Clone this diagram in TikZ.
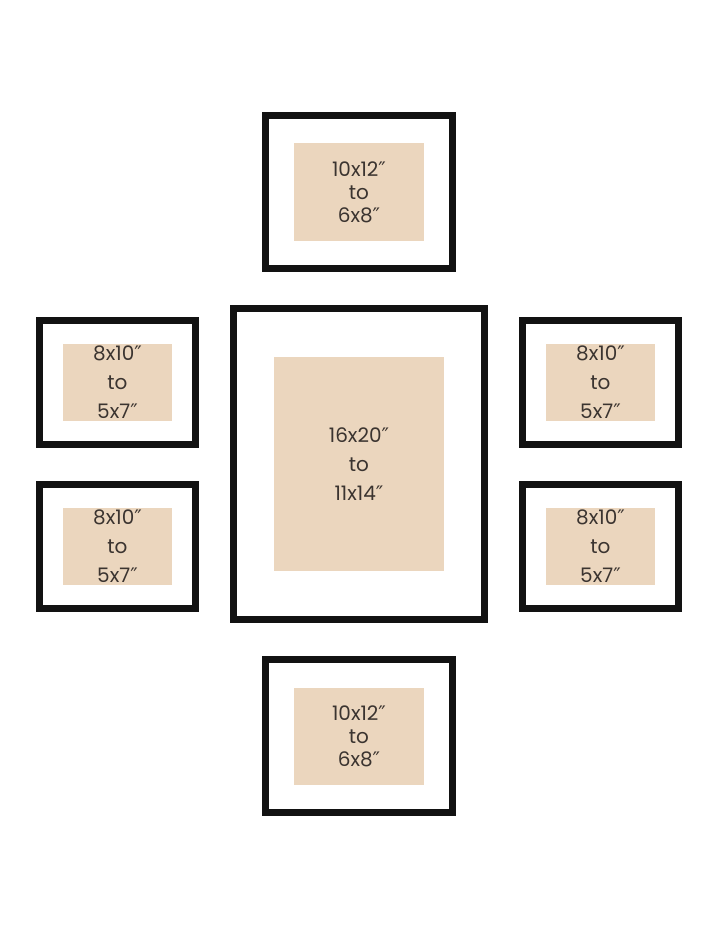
\documentclass[tikz,border=0pt]{standalone}
\usepackage{fontspec}
\setmainfont{Poppins}
\newfontfamily\primefont{DejaVu Sans}
\newcommand\inch{{\primefont\fontsize{20}{20}\selectfont ″}}
\usetikzlibrary{positioning}
\definecolor{matbeige}{HTML}{EBD6BE}
\definecolor{inkgray}{HTML}{3B3430}
\definecolor{framebk}{HTML}{121212}

\begin{document}
\begin{tikzpicture}[x=1pt,y=-1pt,on grid,
        frame/.style={draw=framebk,line width=7pt,inner sep=0pt},
        smallframe/.style={frame,minimum width=156pt,minimum height=124pt},
        wideframe/.style={frame,minimum width=187pt,minimum height=153pt},
        mat/.style={fill=matbeige,inner sep=0pt,text=inkgray,align=center,
            font=\fontsize{20}{29}\selectfont},
        smallmat/.style={mat,minimum width=109.5pt,minimum height=77pt},
        widemat/.style={mat,minimum width=129.5pt,minimum height=97pt,
            font=\fontsize{20}{23}\selectfont}]
        \useasboundingbox (0,0) rectangle (720,928);
        \node[frame,minimum width=251pt,minimum height=311.5pt] (big) at (359,464) {};
        \node[wideframe, above=272pt of big] (top) {};
        \node[wideframe, below=272pt of big] (bottom) {};
        \node[smallframe, above left=81.5pt and 241.5pt of big] (lu) {};
        \node[smallframe, below left=82pt and 241.5pt of big] (ll) {};
        \node[smallframe, above right=81.5pt and 241.5pt of big] (ru) {};
        \node[smallframe, below right=82pt and 241.5pt of big] (rl) {};
        \node[mat,minimum width=169.5pt,minimum height=213.5pt] (big mat) at (big) {16x20\inch\\to\\11x14\inch};
        \node[widemat] (top mat) at (top) {10x12\inch\\to\\6x8\inch};
        \node[widemat] (bottom mat) at (bottom) {10x12\inch\\to\\6x8\inch};
        \node[smallmat] (lu mat) at (lu) {8x10\inch\\to\\5x7\inch};
        \node[smallmat] (ll mat) at (ll) {8x10\inch\\to\\5x7\inch};
        \node[smallmat] (ru mat) at (ru) {8x10\inch\\to\\5x7\inch};
        \node[smallmat] (rl mat) at (rl) {8x10\inch\\to\\5x7\inch};
\end{tikzpicture}
\end{document}
